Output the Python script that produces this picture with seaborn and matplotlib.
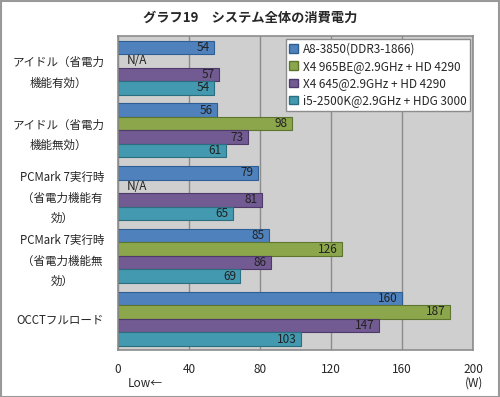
import numpy as np
import pandas as pd
import seaborn as sns
import matplotlib.pyplot as plt
from matplotlib.patches import Patch, Rectangle

# data (None = N/A)
categories = ['アイドル（省電力\n機能有効）', 'アイドル（省電力\n機能無効）',
              'PCMark 7実行時\n（省電力機能有\n効）', 'PCMark 7実行時\n（省電力機能無\n効）',
              'OCCTフルロード']
series = ['A8-3850(DDR3-1866)', 'X4 965BE@2.9GHz + HD 4290',
          'X4 645@2.9GHz + HD 4290', 'i5-2500K@2.9GHz + HDG 3000']
a8 = [54, 56, 79, 85, 160]
x4_965 = [None, 98, None, 126, 187]
x4_645 = [57, 73, 81, 86, 147]
i5 = [54, 61, 65, 69, 103]
xticks = [0, 40, 80, 120, 160, 200]

colors = ['#4F81BD', '#8CA64C', '#725A92', '#4399AF']
edges = ['#2F5E92', '#5E7530', '#4E3A6A', '#2A6E80']

sns.set_style('white')
plt.rcParams['font.family'] = ['Noto Sans CJK JP', 'DejaVu Sans']

all_vals = [a8, x4_965, x4_645, i5]
df = pd.DataFrame({'cat': categories * 4,
                   'ser': sum([[s] * 5 for s in series], []),
                   'val': [0 if v is None else v for vs in all_vals for v in vs]})

fig = plt.figure(figsize=(5, 3.97), dpi=100)
ax = fig.add_axes([0.236, 0.118, 0.71, 0.791])
ax.set_facecolor('#CFCFCF')
sns.barplot(data=df, y='cat', x='val', hue='ser', orient='h', palette=colors,
            width=0.86, ax=ax, legend=False, saturation=1)

for i, cont in enumerate(ax.containers):
    for j, bar in enumerate(cont):
        yc = bar.get_y() + bar.get_height() / 2
        v = all_vals[i][j]
        if v is None:
            bar.set_linewidth(0)
            ax.text(5, yc, 'N/A', ha='left', va='center', fontsize=8.5, color='#222222')
        else:
            bar.set_edgecolor(edges[i])
            bar.set_linewidth(0.8)
            ax.text(v - 2.5, yc, str(v), ha='right', va='center',
                    fontsize=8.5, color='#222222')

ax.set_xlim(0, 200)
ax.set_ylim(4.5, -0.5)
ax.set_xticks(xticks)
ax.set_xticklabels([str(t) for t in xticks], fontsize=8.5)
ax.tick_params(axis='x', length=0, pad=9)
ax.tick_params(axis='y', length=0, pad=10)
ax.set_yticks(range(len(categories)))
ax.set_yticklabels(categories, fontsize=8.3, multialignment='center', linespacing=1.75)
ax.set_xlabel('')
ax.set_ylabel('')
ax.set_axisbelow(True)
ax.grid(axis='x', color='#8C8C8C', linewidth=1)
for s in ax.spines.values():
    s.set_color('#8C8C8C')
    s.set_linewidth(1.2)

handles = [Patch(facecolor=c, edgecolor=e, label=s) for c, e, s in zip(colors, edges, series)]
leg = ax.legend(handles=handles, loc='upper right', bbox_to_anchor=(0.992, 0.99),
                fontsize=8.5, frameon=True, fancybox=False, handlelength=0.75,
                handleheight=0.75, handletextpad=0.4, borderpad=0.3, labelspacing=0.35,
                borderaxespad=0)
leg.get_frame().set_edgecolor('#8C8C8C')
leg.get_frame().set_facecolor('white')
leg.get_frame().set_alpha(1)

fig.text(0.5, 0.955, 'グラフ19　システム全体の消費電力', ha='center', va='center',
         fontsize=9.5, fontweight='bold')
fig.text(0.29, 0.035, 'Low←', ha='center', va='center', fontsize=8.5)
fig.text(0.948, 0.035, '(W)', ha='center', va='center', fontsize=8.5)
fig.patches.append(Rectangle((0.001, 0.001), 0.997, 0.996, transform=fig.transFigure,
                             fill=False, edgecolor='#999999', linewidth=1.5))

fig.savefig('out.png', dpi=100)
